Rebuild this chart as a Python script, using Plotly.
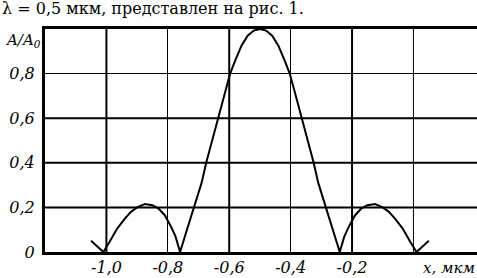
import plotly.graph_objects as go

# Curve: normalised amplitude A/A0 versus x (мкм)
x_mkm = [-1.05, -1.01, -0.99, -0.965, -0.94, -0.92, -0.90, -0.875, -0.85, -0.83, -0.81, -0.79, -0.775, -0.76,
         -0.74, -0.715, -0.69, -0.675, -0.655, -0.637, -0.617, -0.597, -0.58, -0.56, -0.54, -0.52, -0.50,
         -0.48, -0.46, -0.44, -0.42, -0.403, -0.383, -0.363, -0.345, -0.325, -0.31, -0.285, -0.26, -0.24,
         -0.225, -0.21, -0.19, -0.17, -0.15, -0.125, -0.10, -0.08, -0.06, -0.035, -0.01, 0.01, 0.05]
amp = [0.05, 0.0, 0.045, 0.105, 0.15, 0.18, 0.20, 0.215, 0.21, 0.195, 0.165, 0.115, 0.07, 0.0,
       0.09, 0.20, 0.31, 0.40, 0.50, 0.60, 0.70, 0.80, 0.86, 0.925, 0.97, 0.993, 1.0,
       0.993, 0.97, 0.925, 0.86, 0.80, 0.70, 0.60, 0.50, 0.40, 0.31, 0.20, 0.09, 0.0,
       0.07, 0.115, 0.165, 0.195, 0.21, 0.215, 0.20, 0.18, 0.15, 0.105, 0.045, 0.0, 0.05]

x_tick_vals = [-1.0, -0.8, -0.6, -0.4, -0.2]
x_tick_text = ["-1,0", "-0,8", "-0,6", "-0,4", "-0,2"]
y_tick_vals = [0.0, 0.2, 0.4, 0.6, 0.8]
y_tick_text = ["0", "0,2", "0,4", "0,6", "0,8"]
thick_x = [-1.0, -0.6, -0.2]
thin_x = [0.0]
thick_y = [0.2, 0.4, 0.6]

FONT = "DejaVu Serif"

fig = go.Figure()
fig.add_trace(go.Scatter(x=x_mkm, y=amp, mode="lines",
                         line=dict(color="black", width=2), hoverinfo="skip",
                         cliponaxis=False))

shapes = []
for xv in thick_x:
    shapes.append(dict(type="line", xref="x", yref="paper", x0=xv, x1=xv, y0=0, y1=1,
                       line=dict(color="black", width=2), layer="below"))
for xv in thin_x:
    shapes.append(dict(type="line", xref="x", yref="paper", x0=xv, x1=xv, y0=0, y1=1,
                       line=dict(color="black", width=1), layer="below"))
for yv in thick_y:
    shapes.append(dict(type="line", xref="paper", yref="y", x0=0, x1=1, y0=yv, y1=yv,
                       line=dict(color="black", width=2), layer="below"))

fig.update_layout(
    width=477, height=278,
    margin=dict(l=45, r=0, t=29, b=26),
    paper_bgcolor="white", plot_bgcolor="white",
    showlegend=False,
    shapes=shapes,
    xaxis=dict(range=[-1.2, 0.207], tickvals=x_tick_vals, ticktext=x_tick_text,
               showgrid=True, gridcolor="black", gridwidth=1, zeroline=False,
               showline=True, linecolor="black", linewidth=3, mirror=True,
               ticks="", ticklabelstandoff=-1,
               tickfont=dict(family=FONT, size=16, style="italic", color="black")),
    yaxis=dict(range=[0, 1], tickvals=y_tick_vals, ticktext=y_tick_text,
               showgrid=True, gridcolor="black", gridwidth=1, zeroline=False,
               showline=True, linecolor="black", linewidth=3, mirror=False,
               ticks="", ticklabelstandoff=4,
               tickfont=dict(family=FONT, size=16, style="italic", color="black")),
    annotations=[
        dict(text="λ = 0,5 мкм, представлен на рис. 1.", xref="paper", yref="paper",
             x=-45/432, y=(252-8.5)/223, xanchor="left", yanchor="middle", showarrow=False,
             font=dict(family=FONT, size=16, color="black")),
        dict(text="<i>A/A<sub>0</sub></i>", xref="paper", yref="paper",
             x=-2/432, y=(252-40)/223, xanchor="right", yanchor="middle", showarrow=False,
             font=dict(family=FONT, size=15, color="black")),
        dict(text="<i>x, мкм</i>", xref="paper", yref="paper",
             x=1.0, y=(252-268)/223, xanchor="right", yanchor="middle", showarrow=False,
             font=dict(family=FONT, size=15, color="black")),
    ],
)

fig.write_html("out.html", config={"displayModeBar": False, "staticPlot": True},
               post_script="document.body.style.margin='0';")
